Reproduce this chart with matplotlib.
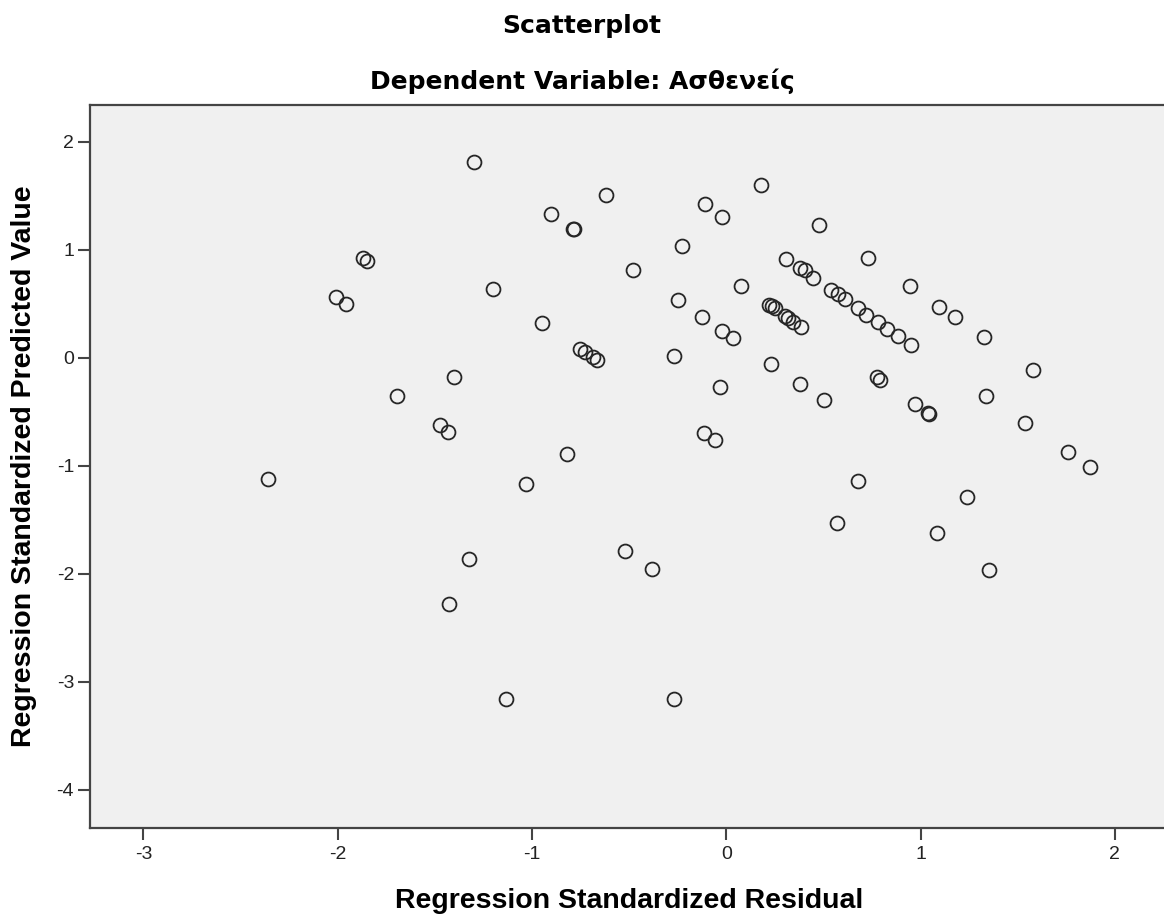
import matplotlib
matplotlib.use("Agg")
import matplotlib.pyplot as plt

plt.rcParams['font.family'] = ['Liberation Sans', 'DejaVu Sans']
plt.rcParams['axes.unicode_minus'] = False

# standardized residuals (x) and standardized predicted values (y)
resid = [-1.30, -0.62, -0.90, -0.79, -0.785, 0.18, -0.11, -0.02, 0.48, -0.23,
         -1.87, -1.85, -0.48, 0.31, 0.73, 0.38, 0.405, 0.445, -2.01, -1.955,
         -1.20, 0.075, 0.945, 0.54, 0.575, 0.61, -0.25, 0.68, 0.72, 0.78,
         0.83, 0.885, 0.95, 1.095, 1.18, 1.325, -0.125, 0.22, 0.235, 0.25,
         0.30, 0.32, 0.345, 0.385, -0.95, -0.02, 0.035, -0.755, -0.725, -0.685,
         -0.665, -0.27, 1.58, 0.23, 0.775, 0.79, -1.40, 0.38, -0.03, 1.335,
         -1.695, 0.505, 0.97, 1.04, 1.045, 1.54, -1.475, -1.43, -0.115, -0.06,
         -0.82, 1.76, 1.875, -2.36, -1.03, 0.68, 1.24, 0.57, 1.085, -0.52,
         -1.325, -0.38, 1.355, -1.425, -1.135, -0.27]
pred = [1.815, 1.51, 1.33, 1.19, 1.195, 1.60, 1.42, 1.30, 1.23, 1.03,
        0.92, 0.895, 0.81, 0.91, 0.92, 0.83, 0.81, 0.74, 0.565, 0.50,
        0.64, 0.66, 0.66, 0.63, 0.59, 0.54, 0.53, 0.46, 0.40, 0.33,
        0.27, 0.20, 0.12, 0.47, 0.375, 0.19, 0.38, 0.49, 0.475, 0.46,
        0.39, 0.37, 0.335, 0.28, 0.325, 0.245, 0.18, 0.08, 0.055, 0.005,
        -0.02, 0.02, -0.115, -0.055, -0.18, -0.205, -0.18, -0.245, -0.27, -0.355,
        -0.355, -0.39, -0.43, -0.515, -0.52, -0.60, -0.625, -0.685, -0.695, -0.76,
        -0.89, -0.87, -1.01, -1.12, -1.17, -1.14, -1.29, -1.53, -1.625, -1.79,
        -1.865, -1.96, -1.965, -2.28, -3.16, -3.16]

xticks = [-3, -2, -1, 0, 1, 2]
yticks = [-4, -3, -2, -1, 0, 1, 2]

W, H = 1164, 916
fig = plt.figure(figsize=(W / 100, H / 100), dpi=100)
fig.patch.set_facecolor('white')
ax = fig.add_axes([90 / W, (H - 827.5) / H, (1168 - 90) / W, (827.5 - 104.7) / H])
ax.set_facecolor('#f0f0f0')

ax.plot(resid, pred, linestyle='none', marker='o', markersize=10,
        markerfacecolor='none', markeredgecolor='#262626', markeredgewidth=1.3)

ax.set_xlim(-3.275, 2.274)
ax.set_ylim(-4.35, 2.343)
ax.set_xticks(xticks)
ax.set_yticks(yticks)
ax.tick_params(direction='out', length=8.5, width=1.5, color='#444444',
               labelsize=14, labelcolor='#222222', pad=3)
ax.tick_params(axis='x', pad=5)

for side in ('left', 'bottom', 'top'):
    ax.spines[side].set_color('#444444')
    ax.spines[side].set_linewidth(1.6)
ax.spines['right'].set_visible(False)

ax.set_xlabel('Regression Standardized Residual', fontsize=20.5, fontweight='bold', labelpad=18)
ax.set_ylabel('Regression Standardized Predicted Value', fontsize=20.5, fontweight='bold', labelpad=14)

# chart headings
fig.text(582 / W, 1 - 33 / H, 'Scatterplot', ha='center', va='baseline',
         fontsize=18, fontweight='bold', family='DejaVu Sans')
fig.text(582 / W, 1 - 89 / H, 'Dependent Variable: Ασθενείς', ha='center', va='baseline',
         fontsize=18, fontweight='bold', family='DejaVu Sans')

fig.savefig('out.png', dpi=100)
